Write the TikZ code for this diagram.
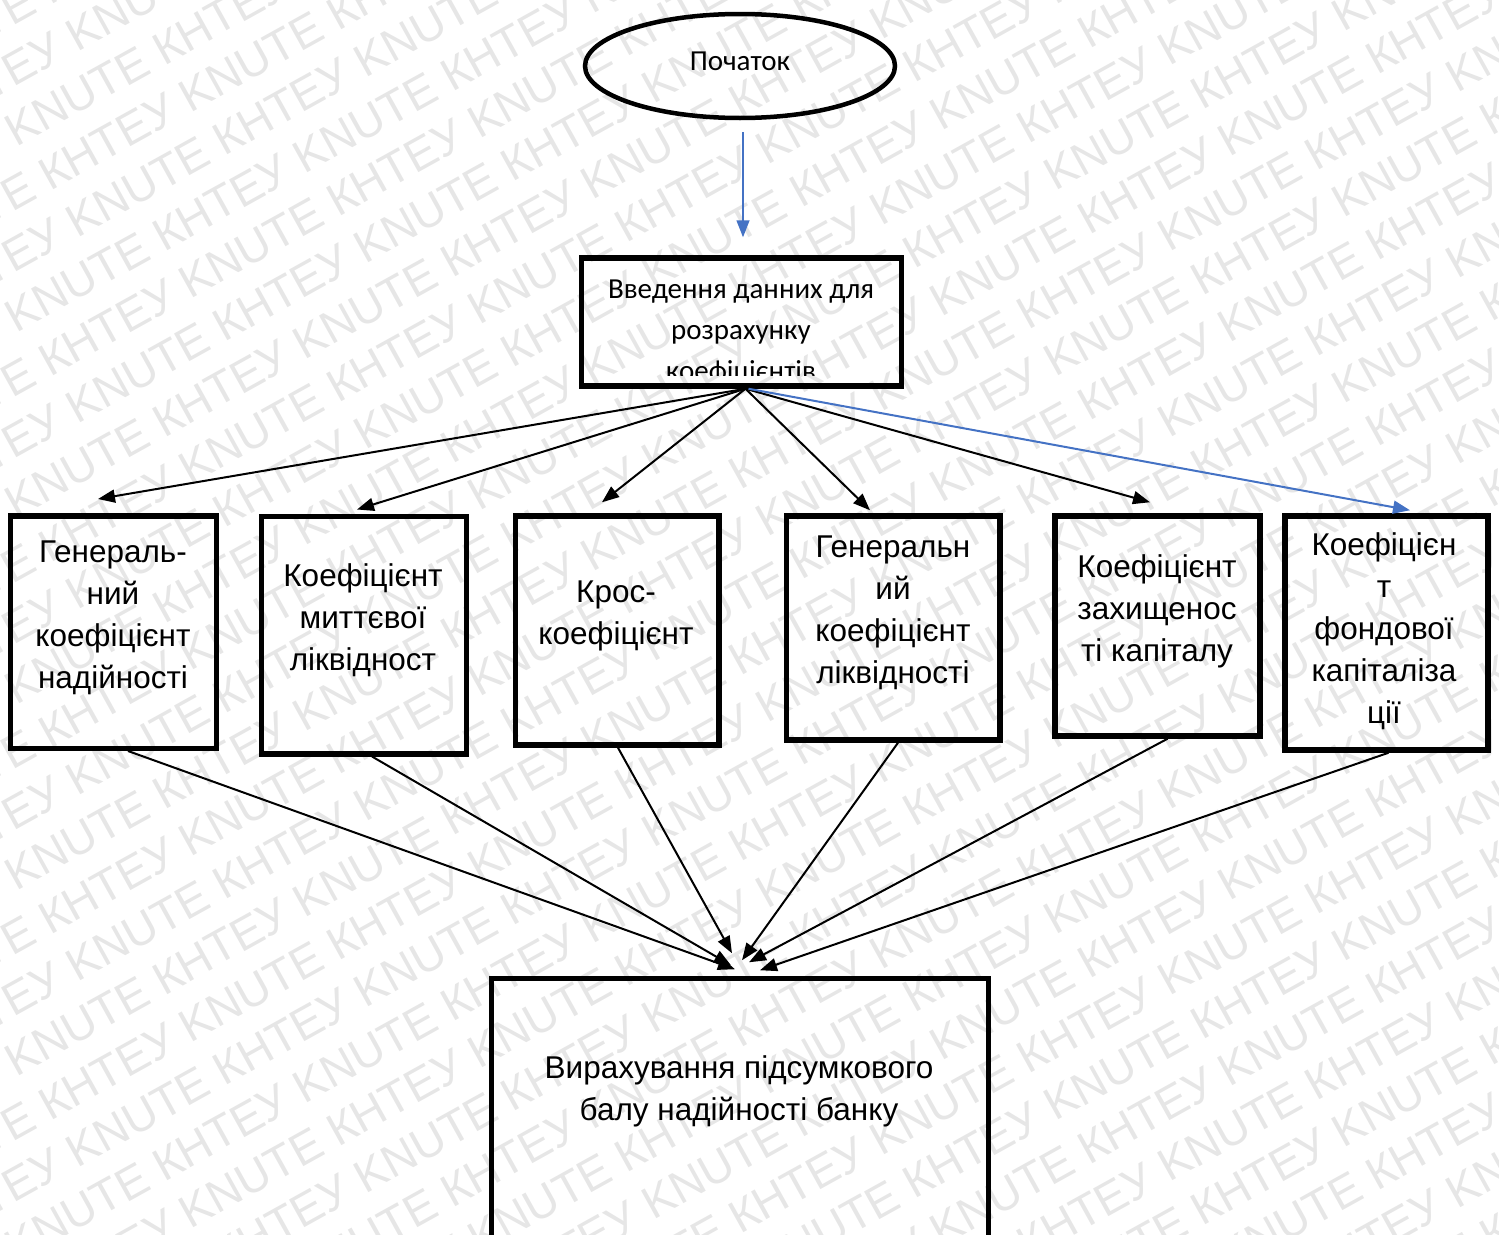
\documentclass[tikz,border=0pt]{standalone}
\usepackage{fontspec}
\setmainfont{Liberation Sans}
\newfontfamily\calib{Carlito}
\usetikzlibrary{arrows.meta,shapes.geometric,calc}
\definecolor{arrblue}{HTML}{4472C4}
\definecolor{wmgray}{HTML}{E6E6E6}
\tikzset{
  box/.style={draw, line width=5.5pt, rectangle, inner sep=0pt},
  lbl/.style={align=center, font=\fontsize{31.5}{42}\selectfont, inner sep=0pt},
  arr/.style={line width=2pt, -{Triangle[length=17pt,width=13pt]}},
  wm/.style={font=\fontsize{46}{46}\selectfont, text=wmgray, anchor=west, inner sep=0pt}
}
\begin{document}
\begin{tikzpicture}[x=1pt,y=-1pt]
\useasboundingbox (0,0) rectangle (1499,1234);
\clip (0,0) rectangle (1499,1234);
% watermark
\foreach \i in {0,...,40} {
  \node[wm, rotate=29] (wm\i) at ({-420 - mod(\i,3)*130*0.875}, {\i*62 + mod(\i,3)*130*0.485}) {КНТЕУ KNUTE КНТЕУ KNUTE КНТЕУ KNUTE КНТЕУ KNUTE КНТЕУ KNUTE КНТЕУ KNUTE КНТЕУ KNUTE КНТЕУ KNUTE};
}
% start
\node[draw, ellipse, line width=4.5pt, minimum width=310, minimum height=104, inner sep=0pt] (start) at (740,66) {};
\node[font=\calib\fontsize{29}{29}\selectfont, inner sep=0pt] (starttxt) at (740,61) {Початок};
% input box
\node[box, minimum width=320, minimum height=128] (input) at (741.5,322) {};
\begin{scope}
  \clip (586,263) rectangle (897,375);
  \node[align=center, font=\calib\fontsize{29}{41}\selectfont, inner sep=0pt] (inputtxt) at (741,333) {Введення данних для\\розрахунку\\коефіцієнтів};
\end{scope}
% six boxes
\node[box, minimum width=206, minimum height=232.5] (b1) at (113.5,632) {};
\node[lbl] (t1) at (113,618) {Генераль-\\ний\\коефіцієнт\\надійності};
\node[box, minimum width=205, minimum height=237.5] (b2) at (364,635) {};
\node[lbl] (t2) at (363,620) {Коефіцієнт\\миттєвої\\ліквідност};
\node[box, minimum width=203.5, minimum height=229] (b3) at (617,630.5) {};
\node[lbl] (t3) at (616,616) {Крос-\\коефіцієнт};
\node[box, minimum width=213.5, minimum height=224] (b4) at (893,628) {};
\node[lbl] (t4) at (893,612.5) {Генеральн\\ий\\коефіцієнт\\ліквідності};
\node[box, minimum width=205, minimum height=220] (b5) at (1157.5,626) {};
\node[lbl] (t5) at (1157,611) {Коефіцієнт\\захищенос\\ті капіталу};
\node[box, minimum width=203, minimum height=234] (b6) at (1386.5,633) {};
\node[lbl] (t6) at (1384,631.5) {Коефіцієн\\т\\фондової\\капіталіза\\ції};
% final box
\node[box, minimum width=497, minimum height=300] (final) at (740,1128.5) {};
\node[lbl] (ft) at (739,1091.5) {Вирахування підсумкового\\балу надійності банку};
% arrows
\draw[arr, arrblue, line width=1.5pt] ([xshift=3pt,yshift=-12pt]start.south) -- ([xshift=1.5pt,yshift=18pt]input.north);
\draw[arr] ([xshift=4pt]input.south) -- ([xshift=-15.5pt,yshift=14pt]b1.north);
\draw[arr] ([xshift=4pt]input.south) -- ([xshift=-7pt,yshift=4pt]b2.north);
\draw[arr] ([xshift=4pt]input.south) -- ([xshift=-15pt,yshift=11pt]b3.north);
\draw[arr] ([xshift=4pt]input.south) -- ([xshift=-23pt,yshift=3pt]b4.north);
\draw[arr] ([xshift=4pt]input.south) -- ([xshift=-7.5pt,yshift=11pt]b5.north);
\draw[arr, arrblue] ([xshift=7pt]input.south) -- ([xshift=23.5pt,yshift=3pt]b6.north);
\draw[arr] ([xshift=14.5pt]b1.south) -- ([xshift=-5pt,yshift=6.5pt]final.north);
\draw[arr] ([xshift=8pt]b2.south) -- ([xshift=-9pt,yshift=10.5pt]final.north);
\draw[arr] ([xshift=1pt]b3.south) -- ([xshift=-8pt,yshift=22.5pt]final.north);
\draw[arr] ([xshift=5pt]b4.south) -- ([xshift=2pt,yshift=15.5pt]final.north);
\draw[arr] ([xshift=10pt]b5.south) -- ([xshift=9pt,yshift=13.5pt]final.north);
\draw[arr] ([xshift=2pt]b6.south) -- ([xshift=20pt,yshift=5.5pt]final.north);
\end{tikzpicture}
\end{document}
